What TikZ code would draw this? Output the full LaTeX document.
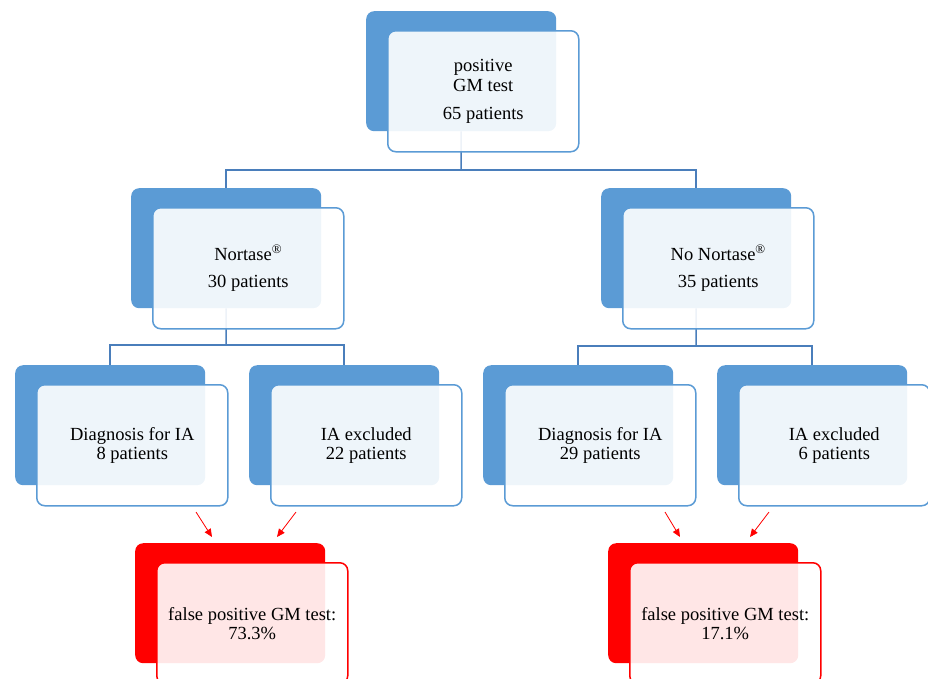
\documentclass[tikz,border=0pt]{standalone}
\usepackage{fontspec}
\setmainfont{Liberation Serif}
\usetikzlibrary{backgrounds,arrows.meta,calc}
\definecolor{bblue}{HTML}{5B9BD5}
\definecolor{cblue}{HTML}{4A7EBB}
\definecolor{rred}{HTML}{FF0000}
\newcommand\boxpair[6]{%
  \node[#4] (#1b) at (#2,#3) {};
  \node[#5] (#1) at ({#2+21},{#3+19}) {#6};}
\begin{document}
\begin{tikzpicture}[x=1pt,y=-1pt,
  backbox/.style={draw=none, fill=bblue, rounded corners=8pt, minimum width=190pt, minimum height=120pt, inner sep=0pt, anchor=north west},
  redback/.style={backbox, fill=rred},
  frontbox/.style={draw=bblue, line width=1.5pt, fill=white, fill opacity=0.9, text opacity=1, rounded corners=8pt, minimum width=191pt, minimum height=121pt, inner sep=0pt, anchor=north west, align=center, font=\fontsize{18.5}{19}\selectfont},
  frontbig/.style={frontbox, font=\fontsize{18.5}{27}\selectfont},
  fronttop/.style={frontbox, font=\fontsize{18.5}{20}\selectfont},
  redfront/.style={frontbox, draw=rred},
  conn/.style={draw=cblue, line width=1.5pt},
  redarrow/.style={draw=rred, line width=0.8pt, -{Triangle[length=8pt,width=7pt]}}]
\useasboundingbox (0,0) rectangle (928,678);
\boxpair{top}{366}{11}{backbox}{fronttop}{positive\\GM test\\[8pt]65 patients}
\boxpair{n1}{131}{188}{backbox}{frontbig}{Nortase\textsuperscript{®}\\30 patients}
\boxpair{n2}{601}{188}{backbox}{frontbig}{No Nortase\textsuperscript{®}\\35 patients}
\boxpair{d1}{15}{365}{backbox}{frontbox}{Diagnosis for IA\\8 patients}
\boxpair{d2}{249}{365}{backbox}{frontbox}{IA excluded\\22 patients}
\boxpair{d3}{483}{365}{backbox}{frontbox}{Diagnosis for IA\\29 patients}
\boxpair{d4}{717}{365}{backbox}{frontbox}{IA excluded\\6 patients}
\boxpair{r1}{135}{543}{redback}{redfront}{false positive GM test:\\73.3\%}
\boxpair{r2}{608}{543}{redback}{redfront}{false positive GM test:\\17.1\%}
\begin{scope}[on background layer]
  \coordinate (j0) at (461,170);
  \coordinate (j1) at (226,345);
  \coordinate (j2) at (696,346);
  \draw[conn] (topb.south) -- (j0);
  \draw[conn] (n1b.north) |- (j0) -| (n2b.north);
  \draw[conn] (n1b.south) -- (j1);
  \draw[conn] (d1b.north) |- (j1) -| (d2b.north);
  \draw[conn] (n2b.south) -- (j2);
  \draw[conn] (d3b.north) |- (j2) -| (d4b.north);
\end{scope}
\coordinate (a1s) at (196,512); \coordinate (a1e) at (212,537);
\coordinate (a2s) at (296,512); \coordinate (a2e) at (277,537);
\coordinate (a3s) at (665,512); \coordinate (a3e) at (680,537);
\coordinate (a4s) at (769,512); \coordinate (a4e) at (750,537);
\draw[redarrow] (a1s) -- (a1e);
\draw[redarrow] (a2s) -- (a2e);
\draw[redarrow] (a3s) -- (a3e);
\draw[redarrow] (a4s) -- (a4e);
\end{tikzpicture}
\end{document}
